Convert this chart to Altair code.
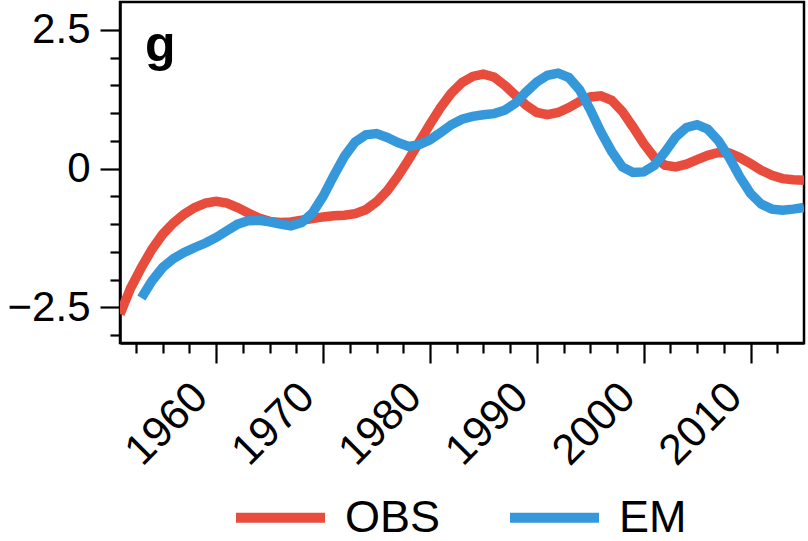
import altair as alt
import pandas as pd

# Annual values of the two smoothed series
obs_years = list(range(1951, 2016))
obs_values = [
    -2.62, -2.15, -1.78, -1.45, -1.18, -0.98, -0.82, -0.70, -0.62, -0.59,
    -0.62, -0.70, -0.80, -0.89, -0.95, -0.97, -0.96, -0.93, -0.90, -0.87,
    -0.85, -0.84, -0.81, -0.74, -0.60, -0.40, -0.14, 0.16, 0.48, 0.80,
    1.10, 1.36, 1.55, 1.66, 1.70, 1.65, 1.50, 1.32, 1.14, 1.01,
    0.97, 1.01, 1.10, 1.21, 1.29, 1.31, 1.23, 1.03, 0.75, 0.45,
    0.20, 0.06, 0.03, 0.08, 0.16, 0.24, 0.29, 0.28, 0.20, 0.09,
    -0.03, -0.12, -0.18, -0.20, -0.21,
]
em_years = list(range(1953, 2016))
em_values = [
    -2.33, -2.02, -1.78, -1.62, -1.51, -1.42, -1.34, -1.24,
    -1.12, -1.00, -0.94, -0.93, -0.96, -1.00, -1.03, -0.97, -0.80, -0.50,
    -0.13, 0.22, 0.48, 0.61, 0.63, 0.56, 0.47, 0.40, 0.43, 0.52,
    0.65, 0.79, 0.89, 0.94, 0.97, 0.99, 1.05, 1.18, 1.38, 1.56,
    1.68, 1.72, 1.64, 1.42, 1.06, 0.66, 0.31, 0.03, -0.07, -0.06,
    0.06, 0.30, 0.57, 0.74, 0.79, 0.71, 0.50, 0.20, -0.15, -0.45,
    -0.64, -0.73, -0.75, -0.73, -0.70,
]

series_names = ["OBS", "EM"]
series_colors = ["#E74C3C", "#3498DB"]

x_tick_values = [
    1952.5, 1955, 1957.5, 1960, 1962.5, 1965, 1967.5, 1970, 1972.5, 1975,
    1977.5, 1980, 1982.5, 1985, 1987.5, 1990, 1992.5, 1995, 1997.5, 2000,
    2002.5, 2005, 2007.5, 2010, 2012.5,
]
y_tick_values = [-3, -2.5, -2, -1.5, -1, -0.5, 0, 0.5, 1, 1.5, 2, 2.5]

FONT = "Liberation Sans"

df = pd.concat([
    pd.DataFrame({"year": obs_years, "value": obs_values, "series": "OBS"}),
    pd.DataFrame({"year": em_years, "value": em_values, "series": "EM"}),
], ignore_index=True)

x_axis = alt.Axis(
    values=x_tick_values,
    labelExpr="datum.value % 10 === 0 ? format(datum.value, 'd') : ''",
    tickSize={"condition": {"test": "datum.value % 10 === 0", "value": 20}, "value": 10},
    tickWidth=2.2,
    tickColor="black",
    labelAngle=-45,
    labelAlign="right",
    labelBaseline="middle",
    labelPadding=27,
    labelOffset=-16,
    labelFont=FONT,
    labelFontSize=43,
    labelColor="black",
    labelOverlap=False,
    labelFlush=False,
    domainColor="black",
    domainWidth=2.5,
    grid=False,
    title=None,
)

y_axis = alt.Axis(
    values=y_tick_values,
    labelExpr="abs(datum.value % 2.5) < 1e-6 ? (datum.value == 0 ? '0' : format(datum.value, '.1f')) : ''",
    tickSize={"condition": {"test": "abs(datum.value % 2.5) < 1e-6", "value": 20}, "value": 10},
    tickWidth=2.2,
    tickColor="black",
    labelPadding=10,
    labelFont=FONT,
    labelFontSize=42,
    labelColor="black",
    labelOverlap=False,
    labelFlush=False,
    domainColor="black",
    domainWidth=2.5,
    grid=False,
    title=None,
)

lines = alt.Chart(df).mark_line(strokeWidth=9.5, clip=True).encode(
    x=alt.X("year:Q", scale=alt.Scale(domain=[1951, 2015], nice=False, zero=False), axis=x_axis),
    y=alt.Y("value:Q", scale=alt.Scale(domain=[-3.14, 3.0], nice=False, zero=False), axis=y_axis),
    color=alt.Color(
        "series:N",
        scale=alt.Scale(domain=series_names, range=series_colors),
        legend=alt.Legend(
            title=None,
            orient="none",
            legendX=111,
            legendY=466,
            direction="horizontal",
            symbolType="stroke",
            symbolSize=7921,
            symbolStrokeWidth=10,
            labelFont=FONT,
            labelFontSize=45,
            labelColor="black",
            labelOffset=15,
            columnPadding=49,
            padding=0,
            labelLimit=0,
        ),
    ),
    order=alt.Order("year:Q"),
)

panel_label = alt.Chart(pd.DataFrame({"t": ["g"]})).mark_text(
    font=FONT, fontSize=50, fontWeight="bold", align="left", baseline="alphabetic", color="black"
).encode(text="t:N", x=alt.value(25), y=alt.value(59))

chart = alt.layer(lines, panel_label).properties(
    width=684,
    height=341,
    background="white",
    padding={"left": 120, "top": 2, "right": 4, "bottom": 198},
    autosize=alt.AutoSizeParams(type="none"),
).configure_view(
    stroke="black", strokeWidth=2.5
)

chart.save("out.html", embed_options={"renderer": "svg", "actions": False})
